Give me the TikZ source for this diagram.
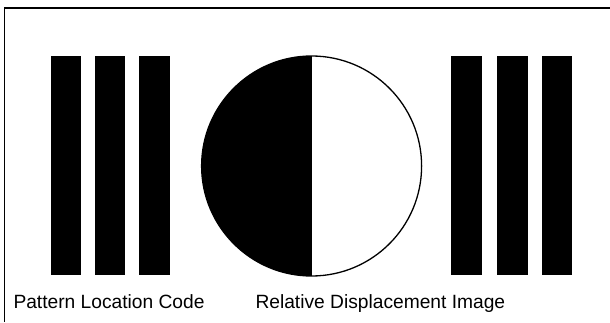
\documentclass[tikz,border=0pt]{standalone}
\usepackage{fontspec}
\setmainfont{Liberation Sans}
\begin{document}
\begin{tikzpicture}[x=1pt,y=1pt,
  bar/.style={draw=none,fill=black,rectangle,inner sep=0pt,outer sep=0pt,minimum width=30.5pt,minimum height=219pt},
  disc/.style={draw=black,line width=1.3pt,circle,inner sep=0pt,outer sep=0pt,minimum size=220pt},
  label/.style={anchor=base west,inner sep=0pt,outer sep=0pt,font=\fontsize{19.2pt}{22pt}\selectfont},
  frame/.style={line width=1.4pt}]
\useasboundingbox (0,0) rectangle (610,322);
\coordinate (tr) at (610,314);
\coordinate (tl) at (4.7,314);
\coordinate (bl) at (4.7,0);
\draw[frame] (tr) -- (tl) -- (bl);
\node[bar] (l1) at (66.1,156.5) {};
\node[bar] (l2) at (110,156.5) {};
\node[bar] (l3) at (154.3,156.5) {};
\node[bar] (r1) at (466.6,156.5) {};
\node[bar] (r2) at (512.4,156.5) {};
\node[bar] (r3) at (557.2,156.5) {};
\node[disc] (c) at (311.6,156) {};
\fill[black] (c.south) arc[start angle=-90,end angle=-270,radius=110pt] -- cycle;
\draw[line width=1.3pt] (c.north) -- (c.south);
\node[label] (t1) at (13.5,14) {Pattern Location Code};
\node[label] (t2) at (255.5,14) {Relative Displacement Image};
\end{tikzpicture}
\end{document}
